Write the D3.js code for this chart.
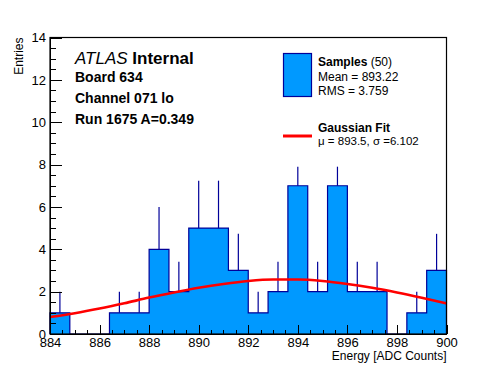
<!DOCTYPE html>
<meta charset="utf-8">
<html lang="en">
  <head>
    <style>
      body { margin: 0; background-color: #fff; }
      text { font-family: "Liberation Sans", Arial, Helvetica, sans-serif; fill: #000; }
      .axis path, .axis line { stroke: #000; stroke-width: 1px; shape-rendering: crispEdges; }
      .axis text { font-size: 13px; }
    </style>
  </head>
  <body>
    <script src="https://cdn.jsdelivr.net/npm/d3@7"></script>
    <script>

      // histogram: 20 bins of 0.8 starting at 884
      var binStart = 884, binWidth = 0.8;
      var counts = [1, 0, 0, 1, 1, 4, 2, 5, 5, 3, 1, 2, 7, 2, 7, 2, 2, 0, 1, 3];
      // upper error bar length as drawn
      var errUp = [1, 0, 0, 1, 1, 2, 1.41, 2.24, 2.24, 1.73, 1, 1.41, 0.9, 1.41, 0.9, 1.41, 1.41, 0, 1, 1.73];

      // gaussian fit curve
      var fitX = [884, 885, 886, 887, 888, 889, 890, 891, 892, 893, 894, 895, 896, 897, 898, 899, 900];
      var fitY = [0.8, 0.98, 1.2, 1.45, 1.72, 1.96, 2.18, 2.36, 2.5, 2.57, 2.57, 2.5, 2.36, 2.18, 1.96, 1.71, 1.44];

      var xTicks = [884, 886, 888, 890, 892, 894, 896, 898, 900];
      var yTicks = [0, 2, 4, 6, 8, 10, 12, 14];

      var infoLines = ["Board 634", "Channel 071 lo", "Run 1675 A=0.349"];

      var fillBlue = "#0099ff", lineBlue = "#000099";

      var width = 496, height = 372;
      var margin = {left: 50, right: 49.5, top: 37.5, bottom: 38};

      var svg = d3.select("body").append("svg")
        .attr("width", width)
        .attr("height", height);

      var x = d3.scaleLinear().domain([884, 900]).range([margin.left, width - margin.right]);
      var y = d3.scaleLinear().domain([0, 14]).range([height - margin.bottom, margin.top]);

      var bins = counts.map(function(c, i) {
        return {x0: binStart + i * binWidth, x1: binStart + (i + 1) * binWidth, n: c, e: errUp[i]};
      });

      // step outline points
      var steps = bins.map(function(d) { return [d.x0, d.n]; });
      steps.push([bins[bins.length - 1].x1, bins[bins.length - 1].n]);

      var area = d3.area()
        .curve(d3.curveStepAfter)
        .x(function(d) { return x(d[0]); })
        .y0(y(0))
        .y1(function(d) { return y(d[1]); });

      svg.append("path")
        .datum(steps)
        .attr("d", area)
        .attr("fill", fillBlue);

      // outline closed down to the axis at both ends
      var outline = [[binStart, 0]].concat(steps).concat([[bins[bins.length - 1].x1, 0]]);
      svg.append("path")
        .datum(outline)
        .attr("d", d3.line().curve(d3.curveStepAfter)
          .x(function(d) { return x(d[0]); })
          .y(function(d) { return y(d[1]); }))
        .attr("fill", "none")
        .attr("stroke", lineBlue)
        .attr("stroke-width", 1.2);

      // error bars (upper part only shows above the fill)
      svg.append("g").selectAll("line")
        .data(bins.filter(function(d) { return d.n > 0; }))
        .enter()
        .append("line")
        .attr("x1", function(d) { return x((d.x0 + d.x1) / 2); })
        .attr("x2", function(d) { return x((d.x0 + d.x1) / 2); })
        .attr("y1", function(d) { return y(d.n); })
        .attr("y2", function(d) { return y(d.n + d.e); })
        .attr("stroke", lineBlue)
        .attr("stroke-width", 1.2);

      // fit curve
      svg.append("path")
        .datum(fitX.map(function(v, i) { return [v, fitY[i]]; }))
        .attr("d", d3.line().curve(d3.curveMonotoneX)
          .x(function(d) { return x(d[0]); })
          .y(function(d) { return y(d[1]); }))
        .attr("fill", "none")
        .attr("stroke", "#ff0000")
        .attr("stroke-width", 2.6);

      // frame
      svg.append("rect")
        .attr("x", x(884)).attr("y", y(14))
        .attr("width", x(900) - x(884)).attr("height", y(0) - y(14))
        .attr("fill", "none").attr("stroke", "#000").attr("stroke-width", 1.2);

      // axes, ticks inside
      var xMinor = d3.range(884, 900.01, 0.5);
      svg.append("g").attr("class", "axis")
        .attr("transform", "translate(0," + y(0) + ")")
        .call(d3.axisBottom(x).tickValues(xMinor).tickSizeInner(-4).tickSizeOuter(0).tickFormat(""))
        .call(function(g) { g.select(".domain").remove(); });
      svg.append("g").attr("class", "axis")
        .attr("transform", "translate(0," + y(0) + ")")
        .call(d3.axisBottom(x).tickValues(xTicks).tickSizeInner(-9).tickSizeOuter(0).tickPadding(4).tickFormat(d3.format("d")));

      var yMinor = d3.range(0, 14.01, 0.5);
      svg.append("g").attr("class", "axis")
        .attr("transform", "translate(" + x(884) + ",0)")
        .call(d3.axisLeft(y).tickValues(yMinor).tickSizeInner(-6).tickSizeOuter(0).tickFormat(""))
        .call(function(g) { g.select(".domain").remove(); });
      svg.append("g").attr("class", "axis")
        .attr("transform", "translate(" + x(884) + ",0)")
        .call(d3.axisLeft(y).tickValues(yTicks).tickSizeInner(-12).tickSizeOuter(0).tickPadding(4).tickFormat(d3.format("d")));

      // axis titles
      svg.append("text")
        .attr("x", x(900)).attr("y", 360)
        .attr("text-anchor", "end")
        .style("font-size", "12px")
        .text("Energy [ADC Counts]");

      svg.append("text")
        .attr("transform", "translate(23," + y(14) + ") rotate(-90)")
        .attr("text-anchor", "end")
        .style("font-size", "12px")
        .text("Entries");

      // ATLAS label block
      var atlas = svg.append("text").attr("x", 75).attr("y", 64).style("font-size", "17px");
      atlas.append("tspan").style("font-style", "italic").text("ATLAS ");
      atlas.append("tspan").style("font-weight", "bold").text("Internal");

      svg.selectAll(".info")
        .data(infoLines)
        .enter()
        .append("text")
        .attr("class", "info")
        .attr("x", 75)
        .attr("y", function(d, i) { return 82 + i * 21; })
        .style("font-size", "14px")
        .style("font-weight", "bold")
        .text(function(d) { return d; });

      // legend
      var leg = svg.append("g").style("font-size", "12px");
      leg.append("rect")
        .attr("x", 283.5).attr("y", 53.5).attr("width", 28).attr("height", 43)
        .attr("fill", fillBlue).attr("stroke", lineBlue).attr("stroke-width", 1.2);
      var t1 = leg.append("text").attr("x", 318).attr("y", 66);
      t1.append("tspan").style("font-weight", "bold").text("Samples");
      t1.append("tspan").text(" (50)");
      leg.append("text").attr("x", 318).attr("y", 81).text("Mean = 893.22");
      leg.append("text").attr("x", 318).attr("y", 94.5).text("RMS = 3.759");

      leg.append("line")
        .attr("x1", 283).attr("x2", 312).attr("y1", 136).attr("y2", 136)
        .attr("stroke", "#ff0000").attr("stroke-width", 3);
      leg.append("text").attr("x", 318).attr("y", 132).style("font-weight", "bold").text("Gaussian Fit");
      leg.append("text").attr("x", 318).attr("y", 145).style("font-size", "11.5px").text("\u03bc = 893.5, \u03c3 =6.102");

    </script>
  </body>
</html>
